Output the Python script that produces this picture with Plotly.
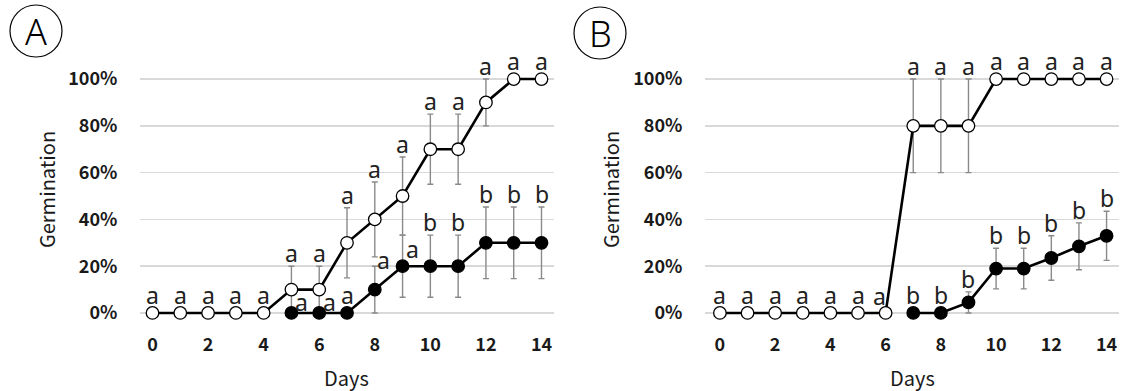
import plotly.graph_objects as go

# ---------------- data ----------------
days = list(range(15))

# Panel A
A_open = [0, 0, 0, 0, 0, 10, 10, 30, 40, 50, 70, 70, 90, 100, 100]
A_open_err = [0, 0, 0, 0, 0, 10, 10, 15, 16, 16.7, 15, 15, 10, 0, 0]
A_open_letters = ["a"] * 15

A_black_days = [5, 6, 7, 8, 9, 10, 11, 12, 13, 14]
A_black = [0, 0, 0, 10, 20, 20, 20, 30, 30, 30]
A_black_err = [0, 0, 0, 10, 13.3, 13.3, 13.3, 15.3, 15.3, 15.3]
A_black_letters = ["a", "a", "a", "a", "a", "b", "b", "b", "b", "b"]

# Panel B
B_open = [0, 0, 0, 0, 0, 0, 0, 80, 80, 80, 100, 100, 100, 100, 100]
B_open_err = [0, 0, 0, 0, 0, 0, 0, 20, 20, 20, 0, 0, 0, 0, 0]
B_open_letters = ["a"] * 15

B_black_days = [7, 8, 9, 10, 11, 12, 13, 14]
B_black = [0, 0, 4.5, 19, 19, 23.5, 28.5, 33]
B_black_err = [0, 0, 4.5, 8.7, 8.7, 9.5, 10, 10.5]
B_black_letters = ["b"] * 8

y_ticks = [0, 20, 40, 60, 80, 100]
x_ticks = [0, 2, 4, 6, 8, 10, 12, 14]
panel_labels = ["A", "B"]

# label nudges (pixels) for crowded letters: (panel, series, day) -> (xshift, yshift)
nudges = {
    ("A", "black", 5): (10, 11),
    ("A", "black", 6): (10, 11),
    ("A", "black", 8): (9, 6),
    ("A", "black", 9): (10, -14),
    ("B", "open", 6): (-6, 17),
}

# ---------------- styling ----------------
W, H = 1121, 391
GRID = "#d9d9d9"
ERRC = "#8a8a8a"
TICKFONT = dict(family="Noto Sans CJK JP", size=18, color="#1a1a1a", weight="bold")
TITLEFONT = dict(family="Noto Sans CJK JP", size=20, color="#1a1a1a")
LETTERFONT = dict(family="Noto Sans", size=23, color="#222222")

fig = go.Figure()


def add_series(xref_n, x, y, err, filled):
    xa = "x" if xref_n == 1 else "x2"
    ya = "y" if xref_n == 1 else "y2"
    fig.add_trace(go.Scatter(
        x=x, y=[v / 100 for v in y],
        mode="lines+markers",
        line=dict(color="black", width=2.6),
        marker=dict(size=12.5, color="black" if filled else "white",
                    line=dict(color="black", width=1.3)),
        error_y=dict(type="data", array=[e / 100 for e in err], color=ERRC,
                     thickness=1.4, width=3),
        xaxis=xa, yaxis=ya, showlegend=False, cliponaxis=False,
    ))


def add_letters(panel, series, xref_n, x, y, err, letters):
    xa = "x" if xref_n == 1 else "x2"
    ya = "y" if xref_n == 1 else "y2"
    for d, v, e, t in zip(x, y, err, letters):
        xs, ys = 0, 13 + (5 if e == 0 else 0)
        if (panel, series, d) in nudges:
            xs, ys = nudges[(panel, series, d)]
        fig.add_annotation(x=d, y=(v + e) / 100, xref=xa, yref=ya, text=t,
                           showarrow=False, xanchor="center", yanchor="middle",
                           xshift=xs, yshift=ys, font=LETTERFONT)


add_series(1, days, A_open, A_open_err, False)
add_series(1, A_black_days, A_black, A_black_err, True)
add_series(2, days, B_open, B_open_err, False)
add_series(2, B_black_days, B_black, B_black_err, True)

add_letters("A", "open", 1, days, A_open, A_open_err, A_open_letters)
add_letters("A", "black", 1, A_black_days, A_black, A_black_err, A_black_letters)
add_letters("B", "open", 2, days, B_open, B_open_err, B_open_letters)
add_letters("B", "black", 2, B_black_days, B_black, B_black_err, B_black_letters)


# screen pixel -> paper helpers
def px(x):
    return x / W


def py(y):
    return (H - y) / H


y_dom = [py(327), py(51)]
yaxis_common = dict(
    range=[-0.06, 1.12], tickvals=[v / 100 for v in y_ticks], tickformat=".0%",
    showgrid=True, gridcolor=GRID, gridwidth=1.5, zeroline=False, showline=False,
    ticks="outside", ticklen=18, tickcolor="rgba(0,0,0,0)", tickfont=TICKFONT,
    domain=y_dom, fixedrange=True,
)
xaxis_common = dict(
    tickvals=x_ticks, showgrid=False, zeroline=False, showline=False,
    ticks="outside", ticklen=1, tickcolor="rgba(0,0,0,0)", tickfont=TICKFONT,
    fixedrange=True,
)

fig.update_layout(
    width=W, height=H, margin=dict(l=0, r=0, t=0, b=0),
    paper_bgcolor="white", plot_bgcolor="white", hovermode=False,
    xaxis=dict(domain=[px(140), px(554)], range=[-0.45, 14.45], anchor="y", **xaxis_common),
    yaxis=dict(anchor="x", **yaxis_common),
    xaxis2=dict(domain=[px(705), px(1119)], range=[-0.54, 14.45], anchor="y2", **xaxis_common),
    yaxis2=dict(anchor="x2", **yaxis_common),
)

# axis titles
for cx, cy in [(346, 377), (912, 377)]:
    fig.add_annotation(x=px(cx), y=py(cy), xref="paper", yref="paper", text="Days",
                       showarrow=False, xanchor="center", yanchor="middle", font=TITLEFONT)
for cx in [46, 610]:
    fig.add_annotation(x=px(cx), y=py(190), xref="paper", yref="paper", text="Germination",
                       showarrow=False, xanchor="center", yanchor="middle", textangle=-90,
                       font=TITLEFONT)

# circled panel labels
for lab, (cx, cy) in zip(panel_labels, [(36, 31), (600, 33)]):
    r = 26
    fig.add_shape(type="circle", xref="paper", yref="paper",
                  x0=px(cx - r), x1=px(cx + r), y0=py(cy + r), y1=py(cy - r),
                  line=dict(color="black", width=1.2))
    fig.add_annotation(x=px(cx), y=py(cy), xref="paper", yref="paper", text=lab,
                       showarrow=False, xanchor="center", yanchor="middle",
                       font=dict(family="Noto Sans", size=36, color="black", weight=300))

fig.write_html("out.html", config={"displayModeBar": False, "staticPlot": True},
               post_script="document.body.style.margin='0';document.body.style.overflow='hidden';")
